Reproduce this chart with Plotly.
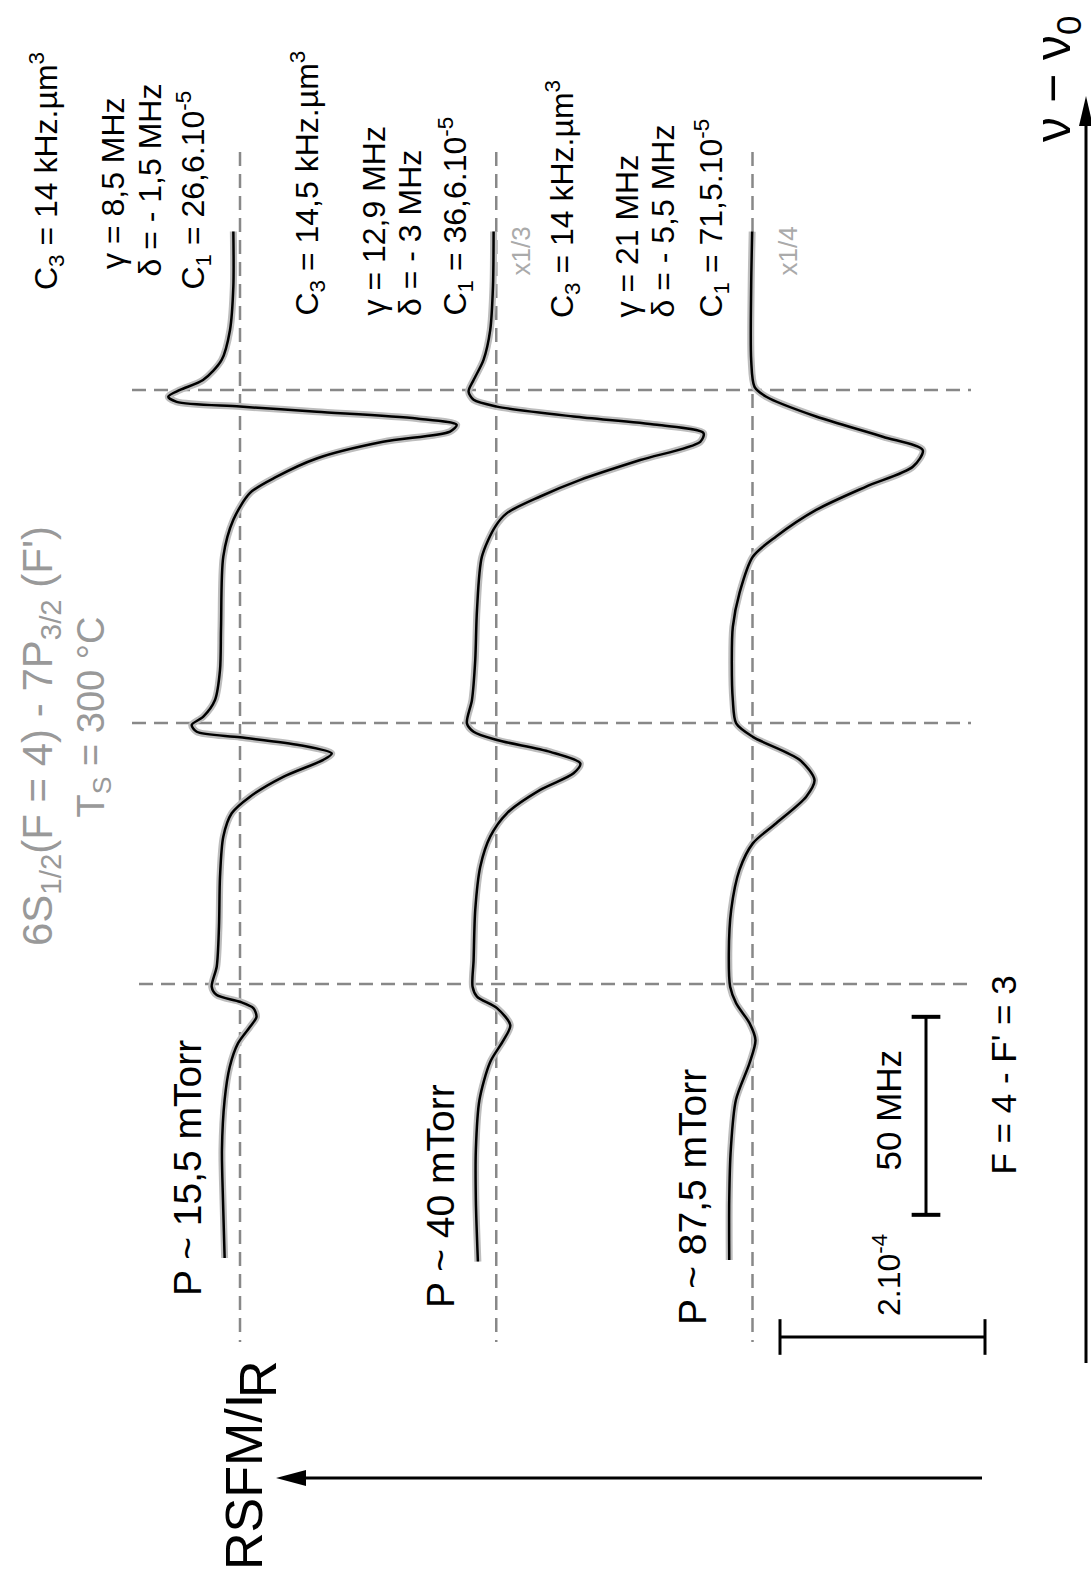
import plotly.graph_objects as go

# RSFM/IR spectra of the Cs 6S1/2(F=4) -> 7P3/2(F') line at three pressures.
# frequency: MHz relative to the F'=4 line, signal: units of 1e-5

freq_15 = [124.1, 110.2, 99.2, 91.7, 86.6, 84.1, 82.4, 81.1, 79.9, 78.6, 76.9, 75.3, 73.6, 71.0, 66.8,
           62.2, 58.1, 51.3, 42.0, 24.3, 13.4, 5.8, 1.6, -0.5, -2.2, -3.6, -5.6, -7.7, -9.3, -13.6,
           -18.6, -22.8, -28.7, -38.8, -51.4, -61.5, -66.6, -68.7, -70.4, -72.0, -74.2, -76.7, -80.9,
           -86.8, -95.2, -107.8, -120.5, -135.1]
sig_15 = [0.65, 0.65, 0.98, 1.79, 3.61, 5.85, 7.0, 6.18, 0.0, -7.48, -17.24, -21.14, -20.49, -13.95, -7.48,
          -3.58, -0.98, 0.65, 1.63, 1.85, 1.95, 2.44, 3.58, 4.71, 4.22, 0.0, -5.85, -8.95, -8.13, -4.22,
          -0.98, 0.81, 1.63, 1.95, 2.05, 2.27, 2.76, 2.27, 0.0, -1.30, -1.61, -0.98, 0.20,
          1.0, 1.50, 1.76, 1.66, 1.50]

freq_40 = [124.1, 110.2, 99.2, 91.7, 86.6, 83.7, 81.6, 79.9, 77.4, 75.3, 73.2, 71.0, 66.4, 61.4, 57.2,
           53.0, 49.6, 42.0, 28.5, 15.9, 5.8, -0.1, -2.2, -4.3, -7.3, -10.2, -12.7, -16.9, -22.8, -28.7,
           -36.3, -47.2, -59.9, -66.6, -69.1, -72.0, -76.3, -80.1, -85.6, -95.2, -107.8, -120.5, -136.0]
sig_40 = [0.26, 0.32, 0.59, 1.24, 2.21, 2.70, 2.21, -0.07, -7.54, -15.68, -20.22, -19.90, -14.05, -8.20, -4.29,
          -1.04, 0.10, 1.40, 1.88, 2.05, 2.37, 2.86, 2.21, -0.07, -5.27, -8.20, -7.54, -4.29, -1.04, 0.59,
          1.56, 2.05, 2.21, 2.31, 1.88, -0.07, -1.37, -0.71, 0.59, 1.64, 1.99, 1.99, 1.79]

freq_87 = [124.1, 110.2, 91.7, 84.9, 82.4, 77.4, 72.3, 68.9, 64.7, 59.7, 53.8, 47.1, 42.0, 32.8, 24.3,
           15.9, 5.8, -0.1, -3.5, -9.3, -14.4, -18.6, -25.3, -30.4, -37.1, -47.2, -58.2, -66.6, -70.8, -75.8,
           -80.1, -85.9, -95.2, -107.8, -120.5, -135.6]
sig_87 = [0.03, 0.13, 0.13, -0.20, -1.34, -6.21, -12.71, -16.61, -15.64, -11.09, -6.21, -2.31, -0.03, 1.27, 1.92,
          2.02, 1.92, 1.59, -0.03, -4.59, -6.05, -5.24, -2.31, -0.03, 1.27, 2.08, 2.31, 2.18, 1.59, 0.29,
          -0.29, 0.29, 1.62, 2.12, 2.27, 2.27]

offsets = [0, -25, -50]                 # horizontal stacking of the three spectra (1e-5)
hyperfine = [84.1, 0.0, -65.9]          # F'=5, F'=4, F'=3 (MHz)
pressures = ["P ~ 15,5 mTorr", "P ~ 40 mTorr", "P ~ 87,5 mTorr"]
scales = ["", "x1/3", "x1/4"]
fit_params = [
    ["C<sub>3</sub> = 14 kHz.µm<sup>3</sup>", "γ = 8,5 MHz", "δ = - 1,5 MHz", "C<sub>1</sub> = 26,6.10<sup>-5</sup>"],
    ["C<sub>3</sub> = 14,5 kHz.µm<sup>3</sup>", "γ = 12,9 MHz", "δ = - 3 MHz", "C<sub>1</sub> = 36,6.10<sup>-5</sup>"],
    ["C<sub>3</sub> = 14 kHz.µm<sup>3</sup>", "γ = 21 MHz", "δ = - 5,5 MHz", "C<sub>1</sub> = 71,5.10<sup>-5</sup>"],
]

W, H = 1091, 1576
FONT = "Liberation Sans, Arial, sans-serif"
# pixel calibration of the page
X0, PX_UNIT = 240, 10.25     # x pixel of signal 0, pixels per 1e-5
Y0, PX_MHZ = 723, 3.96       # y pixel of F'=4, pixels per MHz


def sx(x):
    return (X0 - x) / PX_UNIT


def fy(y):
    return (Y0 - y) / PX_MHZ


def px(x):
    return x / W


def py(y):
    return 1 - y / H


fig = go.Figure()
for fr, sg, off in zip([freq_15, freq_40, freq_87], [sig_15, sig_40, sig_87], offsets):
    xs = [s + off for s in sg]
    fig.add_trace(go.Scatter(x=xs, y=fr, mode="lines", line=dict(color="#bdbdbd", width=7, shape="spline", smoothing=0.8),
                             hoverinfo="skip", showlegend=False))
    fig.add_trace(go.Scatter(x=xs, y=fr, mode="lines", line=dict(color="black", width=2.5, shape="spline", smoothing=0.8),
                             showlegend=False))

shapes = []
dash = dict(color="#888888", width=2.5, dash="14px,8px")
for off in offsets:
    shapes.append(dict(type="line", xref="x", yref="y", x0=off, x1=off, y0=fy(152), y1=fy(1342),
                       line=dash, layer="below"))
for f, xstart in zip(hyperfine, [132, 132, 139]):
    shapes.append(dict(type="line", xref="x", yref="y", x0=sx(xstart), x1=sx(971), y0=f, y1=f,
                       line=dash, layer="below"))

# 50 MHz scale bar
bar_f0, bar_s = -74.2, sx(926)
shapes.append(dict(type="line", x0=bar_s, x1=bar_s, y0=bar_f0, y1=bar_f0 - 50, line=dict(color="black", width=3)))
for f in [bar_f0, bar_f0 - 50]:
    shapes.append(dict(type="line", x0=bar_s + 1.4, x1=bar_s - 1.4, y0=f, y1=f, line=dict(color="black", width=4)))
# 2.10^-4 scale bar
bar_s0, bar_fy = sx(780), fy(1337)
shapes.append(dict(type="line", x0=bar_s0, x1=bar_s0 - 20, y0=bar_fy, y1=bar_fy, line=dict(color="black", width=3)))
for s in [bar_s0, bar_s0 - 20]:
    shapes.append(dict(type="line", x0=s, x1=s, y0=bar_fy + 4.5, y1=bar_fy - 4.5, line=dict(color="black", width=3)))

# axis arrows
shapes.append(dict(type="line", xref="paper", yref="paper", x0=px(982), x1=px(300), y0=py(1478), y1=py(1478),
                   line=dict(color="black", width=3)))
shapes.append(dict(type="path", xref="paper", yref="paper", fillcolor="black", line=dict(width=0),
                   path=f"M {px(276)},{py(1478)} L {px(306)},{py(1470)} L {px(306)},{py(1486)} Z"))
shapes.append(dict(type="line", xref="paper", yref="paper", x0=px(1086), x1=px(1086), y0=py(1363), y1=py(120),
                   line=dict(color="black", width=3)))
shapes.append(dict(type="path", xref="paper", yref="paper", fillcolor="black", line=dict(width=0),
                   path=f"M {px(1086)},{py(96)} L {px(1079)},{py(126)} L {px(1093)},{py(126)} Z"))


def label(text, x, y, size, color="black"):
    return dict(text=text, x=px(x), y=py(y), xref="paper", yref="paper", xanchor="center", yanchor="bottom",
                textangle=-90, showarrow=False, font=dict(size=size, color=color, family=FONT))


annotations = []
param_x = [[47, 113, 150, 193], [307, 373, 410, 455], [563, 627, 663, 711]]
param_y = [[292, 271, 279, 292], [318, 318, 318, 318], [320, 320, 320, 320]]
for lines, xs, ys in zip(fit_params, param_x, param_y):
    for t, x, y in zip(lines, xs, ys):
        annotations.append(label(t, x, y, 32))
for t, x in zip(scales, [0, 521, 788]):
    if t:
        annotations.append(label(t, x, 278, 26, "#aaaaaa"))
for t, x, y in zip(pressures, [187, 440, 692], [1298, 1310, 1327]):
    annotations.append(label(t, x, y, 39))

annotations += [
    label("6S<sub>1/2</sub>(F = 4) - 7P<sub>3/2</sub> (F')", 40, 948, 42, "#999999"),
    label("T<sub>S</sub> = 300 °C", 94, 820, 38, "#999999"),
    label("50 MHz", 888, 1173, 35),
    label("F = 4 - F' = 3", 1003, 1177, 35),
    label("2.10<sup>-4</sup>", 887, 1318, 32),
    label("RSFM/I", 244, 1572, 52),
    label("R", 258, 1400, 52),
    label("ν − ν<sub>0</sub>", 1056, 144, 50),
]

fig.update_layout(
    width=W,
    height=H,
    margin=dict(l=0, r=0, t=0, b=0),
    plot_bgcolor="white",
    paper_bgcolor="white",
    shapes=shapes,
    annotations=annotations,
    showlegend=False,
)
fig.update_xaxes(range=[sx(0), sx(W)], visible=False, fixedrange=True)
fig.update_yaxes(range=[fy(H), fy(0)], visible=False, fixedrange=True)

fig.write_html("out.html", config={"displayModeBar": False},
               post_script="document.body.style.margin = '0px';")
